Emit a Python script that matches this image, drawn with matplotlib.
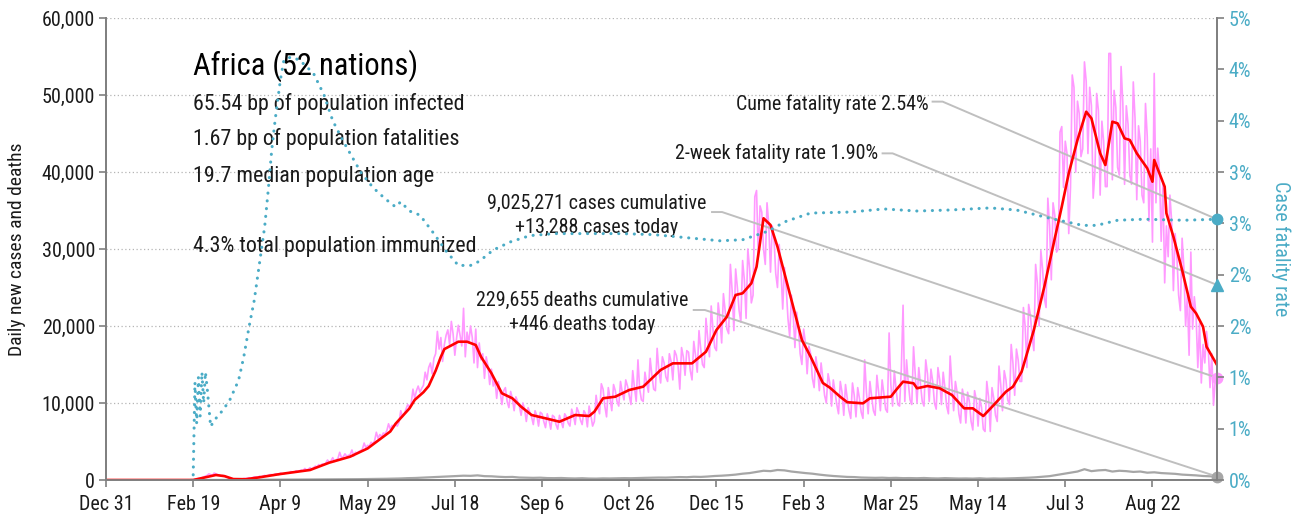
import numpy as np
import pandas as pd
import matplotlib
matplotlib.use("Agg")
import matplotlib.pyplot as plt
from matplotlib.ticker import FuncFormatter, FixedLocator

plt.rcParams['font.family'] = ['Roboto Condensed', 'DejaVu Sans']

ORIGIN = "2019-12-31"
LAST_DAY = "2021-09-28"

# Daily new cases (thousands), one row per week, the last value is today's count
daily_cases_k = [
    0.0, 0.0, 0.1, 0.1, 0.2, 0.2, 0.3,
    0.4, 0.5, 0.6, 0.8, 0.7, 0.6, 0.9,
    0.8, 0.7, 0.6, 0.5, 0.6, 0.5, 0.4,
    0.3, 0.2, 0.2, 0.1, 0.1, 0.1, 0.1,
    0.1, 0.1, 0.2, 0.2, 0.2, 0.3, 0.2,
    0.3, 0.4, 0.4, 0.3, 0.5, 0.4, 0.5,
    0.6, 0.5, 0.6, 0.7, 0.7, 0.6, 0.8,
    0.8, 0.7, 0.9, 0.8, 0.8, 0.9, 0.9,
    0.9, 1.1, 1.0, 1.0, 1.2, 1.1, 1.2,
    1.3, 1.2, 1.5, 1.3, 1.4, 1.6, 1.4,
    1.6, 1.8, 1.7, 2.0, 1.8, 2.1, 2.0,
    2.2, 2.6, 2.3, 2.5, 2.9, 2.4, 2.6,
    2.8, 3.6, 2.9, 3.0, 3.4, 3.1, 3.2,
    3.3, 3.9, 3.1, 3.6, 3.5, 3.7, 3.8,
    4.0, 4.8, 4.2, 4.5, 4.4, 4.9, 4.7,
    5.1, 6.2, 5.4, 5.9, 5.6, 6.1, 6.0,
    6.4, 7.3, 6.6, 7.1, 6.9, 7.2, 7.0,
    7.5, 9.0, 8.2, 8.6, 9.2, 9.8, 9.4,
    10.0, 11.8, 10.6, 11.6, 12.2, 11.4, 11.9,
    12.3, 14.0, 13.0, 14.6, 15.2, 13.8, 15.8,
    16.4, 19.3, 17.0, 18.5, 15.4, 17.6, 18.8,
    19.5, 17.6, 20.6, 19.0, 16.2, 18.4, 20.1,
    18.8, 17.4, 22.3, 16.0, 19.2, 17.8, 20.0,
    18.5, 15.2, 19.6, 14.6, 17.8, 15.6, 16.4,
    13.2, 16.0, 14.8, 12.4, 14.4, 12.2, 13.0,
    10.6, 12.8, 11.4, 9.8, 11.6, 12.0, 10.2,
    9.4, 11.5, 10.6, 9.0, 10.8, 10.2, 9.6,
    8.4, 10.0, 9.2, 7.6, 9.4, 8.8, 8.2,
    7.2, 9.0, 8.4, 7.0, 8.8, 8.6, 7.6,
    6.8, 8.6, 7.8, 6.6, 8.4, 8.2, 7.2,
    6.6, 8.4, 7.6, 6.8, 8.6, 8.2, 7.4,
    7.0, 9.2, 8.4, 7.2, 9.4, 8.8, 7.8,
    7.2, 9.0, 8.6, 6.9, 9.6, 8.4, 7.0,
    7.6, 11.0, 9.4, 8.6, 12.5, 11.8, 9.6,
    8.2, 12.0, 10.6, 9.0, 12.4, 11.6, 10.2,
    9.6, 12.8, 11.4, 10.4, 13.0, 12.2, 11.0,
    9.8, 14.2, 12.0, 10.2, 15.6, 11.8, 10.4,
    10.2, 14.0, 12.6, 11.4, 15.8, 13.6, 11.8,
    11.6, 17.1, 14.2, 12.6, 16.0, 15.2, 13.4,
    12.8, 16.4, 15.4, 13.0, 16.8, 16.2, 14.8,
    11.8, 17.2, 16.0, 13.6, 16.8, 16.6, 14.2,
    13.0, 18.0, 16.2, 14.0, 19.4, 17.0, 15.0,
    14.6, 21.0, 18.4, 16.0, 22.6, 19.6, 17.2,
    16.8, 23.0, 21.0, 17.8, 24.2, 22.0, 19.6,
    19.0, 28.0, 24.6, 19.4, 27.4, 25.0, 22.0,
    20.5, 28.5, 26.0, 21.0, 30.0, 27.5, 23.0,
    24.0, 36.8, 37.6, 29.0, 35.6, 34.8, 30.0,
    28.0, 36.0, 33.2, 27.0, 33.0, 31.4, 26.8,
    25.0, 30.6, 27.4, 22.2, 27.6, 25.0, 21.0,
    18.6, 24.0, 21.6, 17.2, 21.8, 19.8, 16.4,
    15.0, 19.6, 17.8, 13.8, 17.4, 16.4, 13.2,
    12.0, 16.0, 14.4, 11.6, 15.2, 13.2, 11.0,
    10.0, 13.8, 12.6, 9.6, 13.0, 11.4, 9.8,
    8.6, 12.8, 11.4, 8.4, 12.4, 10.6, 9.0,
    8.0, 12.6, 11.0, 8.2, 12.0, 10.6, 8.8,
    8.0, 15.6, 11.4, 8.6, 12.8, 10.8, 9.0,
    8.4, 13.6, 11.4, 9.0, 13.0, 11.2, 9.2,
    8.8, 19.1, 12.4, 9.6, 14.2, 11.8, 9.8,
    9.6, 14.4, 22.7, 10.2, 15.6, 12.6, 10.4,
    9.8, 17.3, 13.6, 10.0, 14.6, 12.4, 10.2,
    9.6, 15.6, 13.8, 10.2, 14.4, 12.8, 10.0,
    9.2, 14.6, 13.0, 9.8, 14.0, 12.0, 9.6,
    8.6, 16.1, 12.4, 9.0, 12.8, 11.4, 8.6,
    7.4, 11.8, 10.6, 7.4, 11.4, 10.2, 7.6,
    6.5, 11.6, 10.4, 7.0, 10.6, 9.4, 6.6,
    6.3, 12.8, 10.8, 6.3, 12.0, 10.6, 8.4,
    7.6, 14.8, 12.4, 9.0, 14.2, 13.0, 10.4,
    9.8, 17.6, 15.2, 11.0, 17.0, 15.6, 12.8,
    12.8, 22.4, 20.0, 14.6, 22.8, 21.4, 18.6,
    16.8, 28.0, 25.6, 20.0, 29.8, 27.4, 23.6,
    22.4, 36.6, 33.0, 26.0, 36.0, 34.4, 29.6,
    30.0, 45.2, 45.9, 38.0, 44.0, 42.4, 32.0,
    38.0, 52.6, 51.0, 40.0, 49.2, 47.6, 42.0,
    43.0, 54.3, 51.8, 42.4, 51.0, 48.6, 36.6,
    40.0, 50.2, 48.0, 37.0, 46.6, 44.0, 38.1,
    38.1, 55.4, 55.4, 39.0, 50.6, 48.4, 40.6,
    39.6, 53.7, 49.0, 38.4, 48.6, 46.2, 39.6,
    38.4, 51.7, 47.0, 36.4, 46.0, 44.0, 37.0,
    36.0, 48.9, 44.6, 33.6, 43.0, 30.9, 52.8,
    36.0, 43.1, 40.0, 31.0, 38.6, 25.6, 33.0,
    29.0, 37.0, 33.6, 24.6, 32.0, 29.0, 24.0,
    22.0, 31.4, 27.6, 20.0, 24.0, 16.2, 29.6,
    19.6, 23.8, 21.4, 14.6, 20.4, 12.6, 17.6,
    15.2, 19.3, 17.0, 12.0, 16.4, 9.7, 13.0,
    13.288,
]

# Seven-day average of new cases (thousands), by day since Dec 31, 2019
avg_day = [0, 50, 56, 63, 68, 73, 80, 88, 100, 117, 128, 140, 150, 163, 166,
           174, 177, 182, 185, 189, 192, 194, 202, 207, 212, 215, 221, 227,
           233, 238, 244, 252, 260, 269, 277, 280, 285, 292, 300, 308, 318,
           325, 336, 344, 350, 356, 361, 365, 370, 373, 377, 381, 385, 389,
           395, 399, 404, 411, 415, 421, 425, 434, 438, 450, 453, 457, 463,
           465, 471, 478, 485, 492, 497, 503, 509, 516, 520, 525, 532, 538,
           544, 548, 552, 557, 562, 565, 570, 573, 577, 580, 584, 587, 591,
           597, 600, 601, 604, 607, 608, 612, 617, 622, 625, 629, 631, 637]
avg_cases_k = [0, 0, 0.3, 0.65, 0.5, 0.12, 0.1, 0.35, 0.78, 1.3, 2.25, 3.03,
               4.1, 6.3, 7.3, 9.3, 10.4, 11.4, 12.2, 14.2, 16.0, 17.0, 17.96,
               17.96, 17.53, 16.01, 13.86, 11.26, 10.61, 9.52, 8.44, 8.01,
               7.57, 8.44, 8.31, 8.87, 10.61, 10.82, 11.69, 12.12, 14.29,
               15.15, 15.15, 16.66, 19.48, 21.21, 24.03, 24.25, 25.54, 27.7,
               33.99, 33.12, 30.3, 26.84, 21.65, 18.18, 16.01, 12.6, 12.0,
               10.8, 10.1, 9.96, 10.61, 10.82, 11.69, 12.77, 12.56, 11.91,
               12.21, 11.91, 11.04, 9.31, 9.31, 8.31, 9.74, 11.47, 12.12,
               14.07, 19.48, 25.1, 31.39, 35.5, 39.83, 44.16, 47.83, 46.97,
               42.43, 40.91, 46.53, 46.32, 44.37, 44.16, 42.43, 40.48, 38.74,
               41.56, 39.83, 38.09, 34.64, 31.6, 27.27, 22.51, 21.65, 19.91,
               17.31, 14.94]

# New deaths every fourth day, the last value is today's count
deaths_4day = [
    0, 0, 0, 2, 5, 8, 10, 15, 20, 25, 30, 35, 40,
    45, 50, 55, 50, 60, 65, 70, 75, 80, 90, 100, 110, 120,
    130, 150, 160, 180, 200, 240, 260, 300, 330, 380, 420, 470, 520,
    560, 540, 600, 500, 480, 420, 380, 400, 320, 300, 280, 300, 250,
    240, 260, 220, 200, 230, 190, 180, 210, 200, 220, 240, 230, 260,
    280, 300, 320, 310, 350, 380, 360, 420, 400, 450, 520, 560, 620,
    700, 820, 900, 1050, 1200, 1150, 1300, 1250, 1100, 1000, 900, 820, 700,
    600, 520, 460, 400, 380, 320, 300, 280, 300, 260, 280, 240, 250,
    230, 260, 220, 200, 240, 210, 190, 200, 180, 220, 170, 200, 180,
    200, 230, 260, 300, 350, 420, 500, 650, 800, 950, 1100, 1400, 1150,
    1250, 1300, 1100, 1200, 1150, 1050, 1100, 950, 1000, 900, 850, 800, 700,
    650, 600, 520, 480, 446,
]

# Cumulative case fatality rate (%), by day since Dec 31, 2019
cfr_day = [50, 51, 52, 53, 54, 55, 56, 57, 58, 60, 62, 64, 67, 71, 76, 79, 82,
           85, 88, 91, 93, 95, 97, 100, 102, 106, 111, 119, 125, 130, 136, 146,
           153, 160, 166, 169, 174, 180, 188, 195, 202, 209, 214, 222, 232,
           243, 257, 276, 295, 314, 333, 352, 365, 379, 390, 404, 427, 446,
           465, 484, 507, 522, 541, 560, 568, 580, 595, 618, 637]
cfr_pct = [0.05, 0.95, 0.55, 1.0, 0.62, 1.05, 0.75, 1.05, 0.9, 0.52, 0.58,
           0.62, 0.68, 0.78, 0.97, 1.2, 1.49, 1.75, 2.11, 2.47, 2.82, 3.21,
           3.51, 3.9, 4.09, 4.12, 4.09, 3.96, 3.75, 3.5, 3.3, 3.0, 2.85,
           2.74, 2.66, 2.71, 2.62, 2.58, 2.40, 2.23, 2.09, 2.09, 2.13, 2.24,
           2.32, 2.38, 2.40, 2.40, 2.40, 2.39, 2.36, 2.33, 2.34, 2.42, 2.52,
           2.60, 2.61, 2.64, 2.62, 2.63, 2.65, 2.63, 2.55, 2.48, 2.48, 2.53,
           2.54, 2.53, 2.54]

two_week_rate = 1.90
cum_cases = 9025271
cum_deaths = 229655

region = "Africa (52 nations)"
stat_lines = ["65.54 bp of population infected",
              "1.67 bp of population fatalities",
              "19.7 median population age",
              "4.3% total population immunized"]

# ---------------------------------------------------------------------------
PINK = "#ff99ff"
RED = "#ff0000"
TEAL = "#4bacc6"
GRAY = "#a6a6a6"
LEADER = "#bfbfbf"
SPINE = "#808080"
INK = "#1a1a1a"

origin = pd.Timestamp(ORIGIN)
last = pd.Timestamp(LAST_DAY)

case_dates = pd.date_range(end=last, periods=len(daily_cases_k), freq="D")
daily_cases = np.array(daily_cases_k) * 1000
avg_dates = origin + pd.to_timedelta(avg_day, unit="D")
avg_cases = np.array(avg_cases_k) * 1000
death_dates = pd.date_range(end=last, periods=len(deaths_4day), freq="4D")
cfr_dates = origin + pd.to_timedelta(cfr_day, unit="D")

fig = plt.figure(figsize=(13.02, 5.22), dpi=100)
ax = fig.add_axes([106 / 1302, 42 / 522, 1111 / 1302, 462 / 522])
ax2 = ax.twinx()

ax.set_xlim(origin, last)
ax.set_ylim(0, 60000)
ax2.set_ylim(0, 4.5)

# gridlines on the left scale
ax.set_yticks(np.arange(0, 60001, 10000))
for v in np.arange(10000, 60001, 10000):
    ax.axhline(v, color="#b5b5b5", lw=0.9, ls=(0, (1, 2)), zorder=0)

ax.plot(case_dates, daily_cases, color=PINK, lw=1.2, zorder=2)
ax.plot(death_dates, deaths_4day, color=GRAY, lw=1.6, zorder=3)
ax.plot(avg_dates, avg_cases, color=RED, lw=1.9, zorder=4)

ax2.plot(cfr_dates, cfr_pct, color=TEAL, lw=2.2, ls=(0, (0.05, 2.5)),
         dash_capstyle="round", zorder=5)

# end markers
ax.plot([case_dates[-1]], [daily_cases[-1]], "o", color=PINK, ms=7.5,
        clip_on=False, zorder=6)
ax.plot([death_dates[-1]], [deaths_4day[-1]], "o", color=GRAY, ms=7.5,
        clip_on=False, zorder=6)
ax2.plot([cfr_dates[-1]], [cfr_pct[-1]], "o", color=TEAL, ms=7.5,
         clip_on=False, zorder=6)
ax2.plot([last], [two_week_rate], "^", color=TEAL, ms=8,
         clip_on=False, zorder=6)

# axes styling
for a in (ax, ax2):
    a.spines["top"].set_visible(False)
    for s in ("left", "right", "bottom"):
        a.spines[s].set_color(SPINE)
        a.spines[s].set_linewidth(1.3)
ax.patch.set_visible(False)
ax2.set_zorder(ax.get_zorder() + 1)
ax2.patch.set_visible(False)

tick_dates = pd.date_range(origin, periods=13, freq="50D")
ax.xaxis.set_major_locator(FixedLocator([matplotlib.dates.date2num(d) for d in tick_dates]))
ax.xaxis.set_major_formatter(FuncFormatter(
    lambda v, p: (lambda d: f"{d:%b} {d.day}")(matplotlib.dates.num2date(v))))
ax.yaxis.set_major_formatter(FuncFormatter(lambda v, p: f"{int(v):,}"))
ax.tick_params(axis="both", colors=SPINE, labelcolor=INK, labelsize=14.5,
               length=5, width=1.2)
ax.tick_params(axis="x", pad=6)
ax.tick_params(axis="y", pad=3)

ax2.set_yticks(np.arange(0, 4.51, 0.5))
ax2.yaxis.set_major_formatter(FuncFormatter(lambda v, p: f"{int(np.floor(v + 0.5 + 1e-9))}%"))
ax2.tick_params(axis="y", colors=SPINE, labelcolor=TEAL, labelsize=14.5,
                length=5, width=1.2)

fig.text(17 / 1302, 1 - 249 / 522, "Daily new cases and deaths", rotation=90,
         ha="center", va="center", fontsize=14, color=INK)
fig.text(1281 / 1302, 1 - 249 / 522, "Case fatality rate", rotation=270,
         ha="center", va="center", fontsize=14.5, color=TEAL)

# summary block
ax.text(0.0783, 0.896, region, transform=ax.transAxes, fontsize=22,
        ha="left", va="center", color="black", zorder=7)
for line, fy in zip(stat_lines, [0.814, 0.738, 0.658, 0.506]):
    ax.text(0.0783, fy, line, transform=ax.transAxes, fontsize=15.8,
            ha="left", va="center", color=INK, zorder=7)

# leader-line callouts
to_axes = ax.transAxes.inverted()


def callout(text, tx, ty, ha, start, kink, target, trans):
    ax.text(tx, ty, text, transform=ax.transAxes, ha=ha, va="center",
            fontsize=14.4, color=INK, linespacing=1.35, zorder=7)
    end = to_axes.transform(trans.transform(target))
    ax.plot([start[0], kink[0], end[0]], [start[1], kink[1], end[1]],
            transform=ax.transAxes, color=LEADER, lw=1.4, zorder=3.5,
            clip_on=False)


xl = matplotlib.dates.date2num(last)
callout(f"Cume fatality rate {cfr_pct[-1]:.2f}%", 0.740, 0.814, "right",
        (0.744, 0.819), (0.753, 0.819), (xl, cfr_pct[-1]), ax2.transData)
callout(f"2-week fatality rate {two_week_rate:.2f}%", 0.695, 0.708, "right",
        (0.699, 0.707), (0.708, 0.707), (xl, two_week_rate), ax2.transData)
callout(f"{cum_cases:,} cases cumulative\n+{int(round(daily_cases[-1])):,} cases today",
        0.442, 0.573, "center", (0.5455, 0.580), (0.5545, 0.580),
        (xl, daily_cases[-1]), ax.transData)
callout(f"{cum_deaths:,} deaths cumulative\n+{deaths_4day[-1]:,} deaths today",
        0.429, 0.363, "center", (0.529, 0.368), (0.539, 0.368),
        (xl, deaths_4day[-1]), ax.transData)

fig.savefig("out.png", dpi=100)
